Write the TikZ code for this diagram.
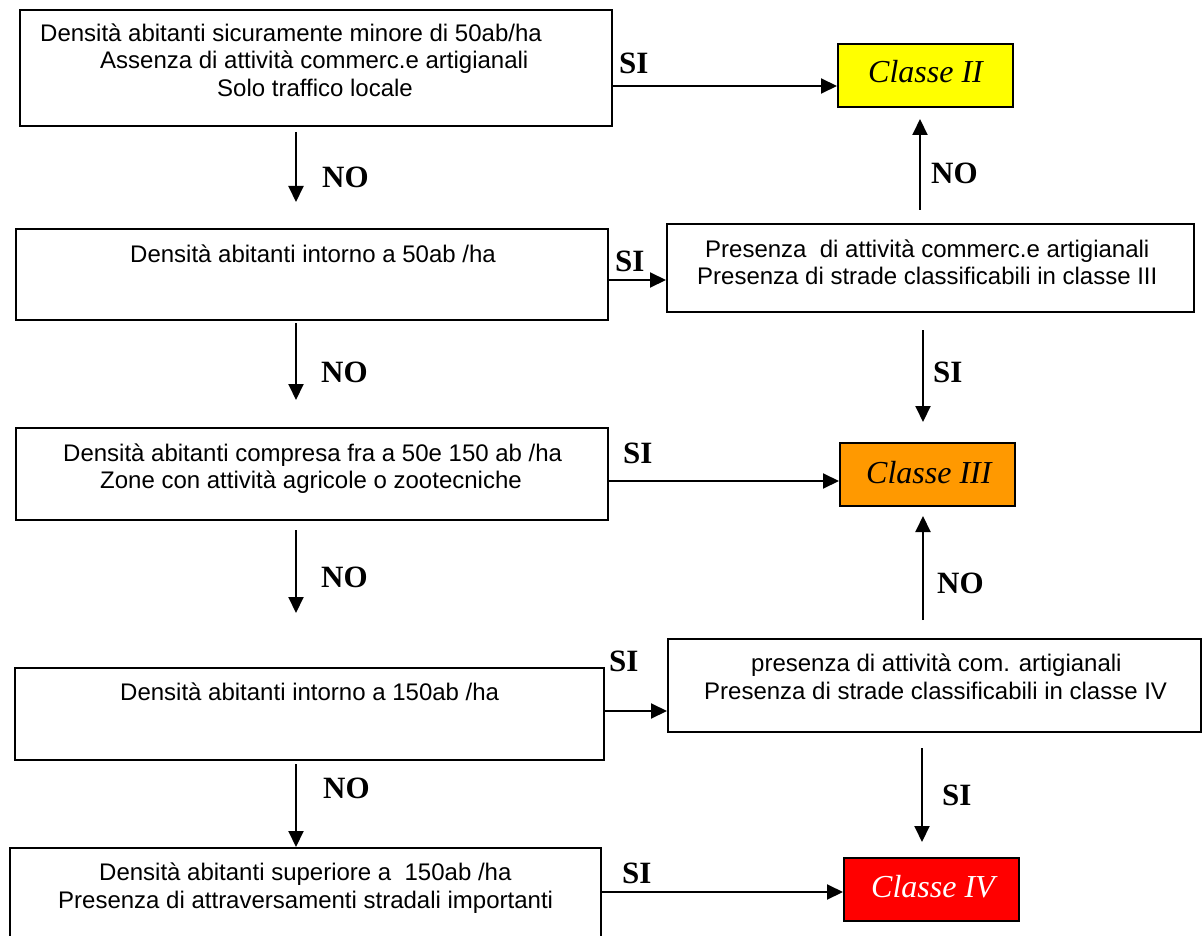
\documentclass[tikz,border=0pt]{standalone}
\usepackage{fontspec}
\setmainfont{Liberation Serif}
\newfontfamily\arialfont{Liberation Sans}
\usetikzlibrary{arrows.meta}
\definecolor{cyellow}{HTML}{FFFF00}
\definecolor{corange}{HTML}{FF9900}
\definecolor{cred}{HTML}{FF0000}
\tikzset{
  box/.style={draw, line width=2pt, inner sep=0pt, anchor=north west},
  clsbox/.style={draw, line width=2pt, inner sep=0pt, anchor=north west, minimum width=175pt, minimum height=63pt},
  txt/.style={font=\arialfont\fontsize{24}{27}\selectfont, inner sep=0pt, anchor=base west},
  lbl/.style={font=\bfseries\fontsize{31}{31}\selectfont, inner sep=0pt, anchor=base west},
  clstxt/.style={font=\itshape\fontsize{32}{32}\selectfont, inner sep=0pt, anchor=base west},
  arr/.style={line width=2pt, -{Triangle[length=16pt,width=15pt]}}
}
\begin{document}
\begin{tikzpicture}[x=1pt,y=-1pt]
\clip (0,0) rectangle (1202,936);
\fill[white] (0,0) rectangle (1202,936);

% boxes
\node[box, minimum width=592pt, minimum height=116pt] (b1) at (19,9) {};
\node[box, minimum width=592pt, minimum height=91pt] (b2) at (15,228) {};
\node[box, minimum width=527pt, minimum height=88pt] (b3) at (666,223) {};
\node[box, minimum width=592pt, minimum height=92pt] (b4) at (15,427) {};
\node[box, minimum width=533pt, minimum height=93pt] (b5) at (667,638) {};
\node[box, minimum width=589pt, minimum height=92pt] (b6) at (14,667) {};
\node[box, minimum width=591pt, minimum height=110pt] (b7) at (9,847) {};
\node[clsbox, fill=cyellow] (c2) at (837,43) {};
\node[clsbox, fill=corange] (c3) at (839,442) {};
\node[clsbox, fill=cred] (c4) at (843,857) {};

% texts
\node[txt] (t1a) at (40,42) {Densità abitanti sicuramente minore di 50ab/ha};
\node[txt] (t1b) at (100,69) {Assenza di attività commerc.e artigianali};
\node[txt] (t1c) at (217,97) {Solo traffico locale};
\node[txt] (t2) at (130,262) {Densità abitanti intorno a 50ab /ha};
\node[txt] (t3a) at (705,257) {Presenza\ \ di attività commerc.e artigianali};
\node[txt] (t3b) at (697,284) {Presenza di strade classificabili in classe III};
\node[txt] (t4a) at (63,461) {Densità abitanti compresa fra a 50e 150 ab /ha};
\node[txt] (t4b) at (100,488) {Zone con attività agricole o zootecniche};
\node[txt] (t5a) at (751,671) {presenza di attività com. artigianali};
\node[txt] (t5b) at (704,699) {Presenza di strade classificabili in classe IV};
\node[txt] (t6) at (120,700) {Densità abitanti intorno a 150ab /ha};
\node[txt] (t7a) at (99,880) {Densità abitanti superiore a\ \ 150ab /ha};
\node[txt] (t7b) at (58,908) {Presenza di attraversamenti stradali importanti};
\node[clstxt] (k2) at (868,83) {Classe II};
\node[clstxt] (k3) at (866,483) {Classe III};
\node[clstxt, text=white] (k4) at (871,897) {Classe IV};

% connectors
\draw[arr] (b1.east |- 0,86) -- (c2.west |- 0,86);
\draw[arr, shorten <=5pt, shorten >=26pt] (b1.south -| 296,0) -- (b2.north -| 296,0);
\draw[arr] (b2.east |- 0,280) -- (b3.west |- 0,280);
\draw[arr, shorten <=13pt, shorten >=11pt] (b3.north -| 920,0) -- (c2.south -| 920,0);
\draw[arr, shorten <=17pt, shorten >=20pt] (b3.south -| 923,0) -- (c3.north -| 923,0);
\draw[arr, shorten <=2pt, shorten >=27pt] (b2.south -| 296,0) -- (b4.north -| 296,0);
\draw[arr] (b4.east |- 0,481) -- (c3.west |- 0,481);
\draw[arr, shorten <=9pt, shorten >=54pt] (b4.south -| 296,0) -- (b6.north -| 296,0);
\draw[arr, shorten <=18pt, shorten >=9pt] (b5.north -| 923,0) -- (c3.south -| 923,0);
\draw[arr] (b6.east |- 0,711) -- (b5.west |- 0,711);
\draw[arr, shorten <=3pt] (b6.south -| 296,0) -- (b7.north -| 296,0);
\draw[arr, shorten <=15pt, shorten >=15pt] (b5.south -| 922,0) -- (c4.north -| 922,0);
\draw[arr] (b7.east |- 0,892) -- (c4.west |- 0,892);

% labels
\node[lbl] (l1) at (619,74) {SI};
\node[lbl] (l2) at (322,188) {NO};
\node[lbl] (l3) at (615,271) {SI};
\node[lbl] (l4) at (931,184) {NO};
\node[lbl] (l5) at (933,382) {SI};
\node[lbl] (l6) at (321,382) {NO};
\node[lbl] (l7) at (623,463) {SI};
\node[lbl] (l8) at (321,587) {NO};
\node[lbl] (l9) at (937,593) {NO};
\node[lbl] (l10) at (609,671) {SI};
\node[lbl] (l11) at (323,798) {NO};
\node[lbl] (l12) at (942,805) {SI};
\node[lbl] (l13) at (622,883) {SI};
\end{tikzpicture}
\end{document}
